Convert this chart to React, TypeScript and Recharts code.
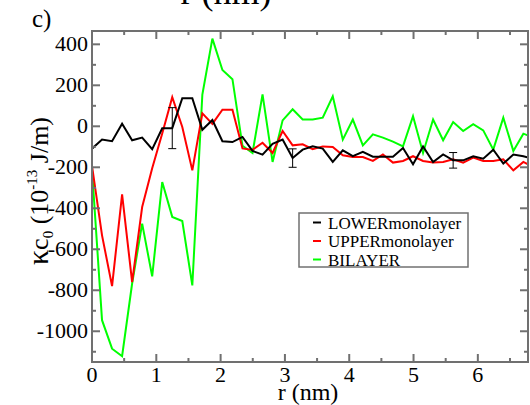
import { ErrorBar, Line, LineChart, XAxis, YAxis } from "recharts";

const r = [
  0, 0.156, 0.312, 0.468, 0.624, 0.78, 0.936, 1.092, 1.248, 1.404, 1.56,
  1.716, 1.872, 2.028, 2.184, 2.34, 2.496, 2.652, 2.808, 2.964, 3.12, 3.276,
  3.432, 3.588, 3.744, 3.9, 4.056, 4.212, 4.368, 4.524, 4.68, 4.836, 4.992,
  5.148, 5.304, 5.46, 5.616, 5.772, 5.928, 6.084, 6.24, 6.396, 6.552, 6.708,
  6.864,
];

const lowerMonolayer = [
  -109, -65, -73, 13, -68, -55, -112, -10, -9, 137, 137, -17, 31, -73, -77,
  -52, -120, -138, -85, -65, -155, -114, -98, -109, -174, -117, -146, -125,
  -148, -148, -148, -106, -185, -98, -174, -137, -166, -166, -146, -158, -114,
  -182, -138, -146, -160,
];

const upperMonolayer = [
  -193, -532, -780, -332, -760, -394, -205, -35, 142, -3, -215, 63, 12, 81,
  81, -108, -115, -80, -130, -23, -93, -88, -112, -98, -101, -141, -150, -150,
  -169, -137, -177, -169, -146, -169, -177, -174, -161, -177, -153, -169, -169,
  -161, -215, -174, -200,
];

const bilayer = [
  -210, -946, -1085, -1122, -767, -475, -732, -272, -442, -462, -776, 155, 428,
  275, 230, -95, -130, 156, -174, 29, 83, 33, 33, 42, 146, -65, 33, -93, -39,
  -55, -75, -98, 49, -130, 33, -68, 21, -23, 10, -20, -114, 42, -120, -36, -55,
];

// error bars on the lower monolayer curve (index -> half range)
const lowerErrIndex = [8, 20, 36];
const lowerErrSize = [100, 45, 38];

const xTicks = [0, 0.5, 1, 1.5, 2, 2.5, 3, 3.5, 4, 4.5, 5, 5.5, 6, 6.5];
const yTicks = [
  -1100, -1000, -900, -800, -700, -600, -500, -400, -300, -200, -100, 0, 100,
  200, 300, 400,
];

// plot box: left 92, right 528, top 31, bottom 362
const PLOT_W = 436;
const PLOT_H = 331;

const FRAME = "#707070";
const FONT = "Times New Roman";

const data = r.map((v, i) => {
  const k = lowerErrIndex.indexOf(i);
  return {
    r: v,
    lower: lowerMonolayer[i],
    upper: upperMonolayer[i],
    bilayer: bilayer[i],
    err: k >= 0 ? lowerErrSize[k] : undefined,
  };
});

const isMajorX = (v: number) => Number.isInteger(v);
const isMajorY = (v: number) => v % 200 === 0;

// bottom ticks also mirror onto the top frame edge
function BottomTick(props: any) {
  const { x, y, payload } = props;
  const len = isMajorX(payload.value) ? 8 : 4;
  return (
    <g>
      <line x1={x} y1={y} x2={x} y2={y - len} stroke={FRAME} strokeWidth={2} />
      <line x1={x} y1={y - PLOT_H} x2={x} y2={y - PLOT_H + len} stroke={FRAME} strokeWidth={2} />
      {len === 8 && (
        <text x={x} y={y + 20} textAnchor="middle" fontFamily={FONT} fontSize={22} fill="#000">
          {payload.value}
        </text>
      )}
    </g>
  );
}

// left ticks also mirror onto the right frame edge
function LeftTick(props: any) {
  const { x, y, payload } = props;
  const len = isMajorY(payload.value) ? 8 : 4;
  return (
    <g>
      <line x1={x} y1={y} x2={x + len} y2={y} stroke={FRAME} strokeWidth={2} />
      <line x1={x + PLOT_W} y1={y} x2={x + PLOT_W - len} y2={y} stroke={FRAME} strokeWidth={2} />
      {len === 8 && (
        <text x={x - 4} y={y + 7} textAnchor="end" fontFamily={FONT} fontSize={22} fill="#000">
          {payload.value}
        </text>
      )}
    </g>
  );
}

const legendItems = [
  { name: "LOWERmonolayer", color: "#000000" },
  { name: "UPPERmonolayer", color: "#ff0000" },
  { name: "BILAYER", color: "#00ff00" },
];

export default function App() {
  const axisLine = { stroke: FRAME, strokeWidth: 2 };
  return (
    <div style={{ position: "absolute", left: 0, top: 0, width: 530, height: 405, background: "#fff" }}>
      <LineChart width={530} height={405} data={data} margin={{ top: 31, right: 2, bottom: 0, left: 0 }}>
        <XAxis
          dataKey="r"
          type="number"
          domain={[0, 6.78]}
          allowDataOverflow
          ticks={xTicks}
          interval={0}
          height={43}
          tickSize={0}
          tickMargin={0}
          tickLine={false}
          axisLine={axisLine}
          tick={BottomTick}
        />
        <YAxis
          type="number"
          domain={[-1150, 465]}
          allowDataOverflow
          ticks={yTicks}
          interval={0}
          width={92}
          tickSize={0}
          tickMargin={0}
          tickLine={false}
          axisLine={axisLine}
          tick={LeftTick}
        />
        <Line dataKey="bilayer" stroke="#00ff00" strokeWidth={2} dot={false} isAnimationActive={false} />
        <Line dataKey="upper" stroke="#ff0000" strokeWidth={2} dot={false} isAnimationActive={false} />
        <Line dataKey="lower" stroke="#000000" strokeWidth={2} dot={false} isAnimationActive={false}>
          <ErrorBar dataKey="err" direction="y" width={4} stroke="#000" strokeWidth={1} isAnimationActive={false} />
        </Line>
      </LineChart>
      <svg width={530} height={405} style={{ position: "absolute", left: 0, top: 0, pointerEvents: "none" }}>
        <rect x={92} y={31} width={PLOT_W} height={PLOT_H} fill="none" stroke={FRAME} strokeWidth={2} />
        <text x={226} y={4} textAnchor="middle" fontFamily={FONT} fontSize={36}>r (nm)</text>
        <text x={32} y={27} fontFamily={FONT} fontSize={25}>c)</text>
        <text x={308} y={400} textAnchor="middle" fontFamily={FONT} fontSize={24}>r (nm)</text>
        <text transform="translate(48,191) rotate(-90)" textAnchor="middle" fontFamily={FONT} fontSize={26}>
          <tspan fontSize={30}>κ</tspan>
          <tspan>c</tspan>
          <tspan fontSize={15} dy={5}>0</tspan>
          <tspan dy={-5}> (10</tspan>
          <tspan fontSize={15} dy={-11}>-13</tspan>
          <tspan dy={11}> J/m)</tspan>
        </text>
        <rect x={299} y={213} width={169} height={54} fill="#fff" stroke={FRAME} strokeWidth={1.5} />
        {legendItems.map((it, i) => (
          <g key={it.name}>
            <line x1={313} x2={321} y1={222.5 + i * 18.5} y2={222.5 + i * 18.5} stroke={it.color} strokeWidth={2} />
            <text x={328} y={228.5 + i * 18.5} fontFamily={FONT} fontSize={17}>{it.name}</text>
          </g>
        ))}
      </svg>
    </div>
  );
}
